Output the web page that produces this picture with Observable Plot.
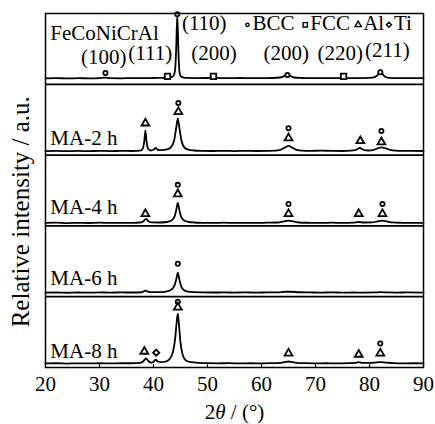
<!DOCTYPE html>
<html><head><meta charset="utf-8">
<script src="https://cdn.jsdelivr.net/npm/d3@7"></script>
<script src="https://cdn.jsdelivr.net/npm/@observablehq/plot@0.6"></script>
<style>body{margin:0;background:#fff} svg{display:block}</style>
</head><body><div id="chart"></div>
<script>
// ---- data (2θ in degrees, intensity in a.u. relative to each panel) ----
const samples = ["FeCoNiCrAl", "MA-2 h", "MA-4 h", "MA-6 h", "MA-8 h"];
const xTicks = [20, 30, 40, 50, 60, 70, 80, 90];

const traceAlloy = [[20,8.5],[22,8.8],[24,8.3],[26,8.7],[28,8.4],[30,8.8],[31,9.3],[32,8.6],[34,8.5],[36,8.8],[38,8.6],[40,8.9],[42,9.2],[43,9.8],[43.6,11],[44.0,20],[44.2,50],[44.4,97],[44.6,50],[44.8,18],[45.1,11],[45.6,9.5],[46.5,9],[48,8.7],[50,8.9],[50.7,9.5],[51.1,11],[51.5,9.5],[52.5,8.8],[54,8.6],[56,8.9],[58,8.6],[60,8.8],[62,8.9],[63.5,9.6],[64.3,12],[64.8,15.5],[65.3,12],[66,9.6],[67.5,8.9],[69,8.6],[71,8.8],[73,8.6],[75,8.9],[77,8.7],[79,8.8],[80.5,9.3],[81.4,12],[81.8,17],[82.0,20],[82.3,16],[82.8,11],[83.6,9.2],[85,8.8],[87,8.6],[89,8.8],[90,8.6]];
const trace2h = [[20,5.7],[22,6],[24,5.5],[26,5.9],[28,5.6],[30,6],[32,5.7],[34,5.9],[36,5.8],[37.5,6.2],[38.0,9],[38.3,20],[38.5,35],[38.7,20],[39.0,9],[39.5,6.5],[40.0,7.5],[40.4,10],[40.8,7.5],[41.5,7],[42.5,8],[43.2,11],[43.8,20],[44.2,38],[44.5,52],[44.8,38],[45.2,20],[45.8,10],[46.5,7.5],[47.5,6.5],[49,6],[51,5.8],[53,6],[55,5.7],[57,6],[59,5.8],[61,6],[62.5,6.3],[63.5,7.5],[64.3,10.5],[65,13],[65.7,10.5],[66.5,7.5],[67.5,6.3],[69,6],[71,6.3],[73,6],[75,5.8],[76.5,6.2],[77.5,7.5],[78.2,10],[78.9,7.5],[79.8,6.5],[80.8,7.5],[81.5,9.5],[82.2,11],[83,9.5],[83.8,7.5],[84.8,6.3],[86,5.9],[88,6.1],[90,5.8]];
const trace4h = [[20,4.2],[22,4.5],[24,4],[26,4.4],[28,4.1],[30,4.5],[32,4.2],[34,4.4],[36,4.3],[37.5,4.8],[38.2,7],[38.6,10],[39.0,7],[39.7,5],[41,4.8],[42.5,5.5],[43.3,7.5],[43.9,13],[44.2,22],[44.5,32.5],[44.8,22],[45.1,13],[45.7,7.5],[46.5,5.5],[47.5,4.8],[49,4.4],[51,4.2],[53,4.5],[55,4.2],[57,4.4],[59,4.2],[61,4.5],[63,4.8],[64,6],[65,7.5],[66,6],[67,4.8],[69,4.4],[71,4.2],[73,4.5],[75,4.2],[77,4.6],[78,5.5],[79,4.8],[80.5,5],[81.5,6.5],[82.3,7.5],[83.2,6.5],[84.2,5],[86,4.4],[88,4.2],[90,4.4]];
const trace6h = [[20,5.7],[22,5.9],[24,5.6],[26,5.9],[28,5.7],[30,6],[32,5.8],[34,6],[36,5.9],[37.8,6.3],[38.5,8.5],[39.2,6.5],[40.5,6.4],[41.5,6.5],[42.5,7.5],[43.3,10],[43.9,16],[44.2,24],[44.5,34],[44.8,24],[45.1,15],[45.6,9.5],[46.3,7.3],[47.5,6.4],[49,6.1],[51,5.9],[53,6],[55,5.8],[57,6],[59,5.8],[61,6],[63,6.2],[64.5,7],[65.5,7],[67,6.3],[69,6],[71,5.8],[73,6],[75,5.8],[77,5.9],[79,5.8],[81,6],[82,6.5],[83.5,6],[85,5.8],[87,6],[90,5.8]];
const trace8h = [[20,5.7],[22,6],[24,5.6],[26,5.9],[28,5.7],[30,6],[32,5.8],[34,6],[36,6],[37.5,6.5],[38.1,8.5],[38.6,12.7],[39.1,8.5],[39.6,6.8],[40.0,8],[40.4,11],[40.8,8.5],[41.5,7.5],[42.3,8.5],[43.0,12],[43.6,22],[44.0,40],[44.3,65],[44.5,76],[44.7,62],[45.0,35],[45.4,18],[46,10],[47,7.5],[48.5,6.5],[50,6.1],[52,5.9],[54,6.1],[56,5.8],[58,6],[60,5.9],[62,6.1],[63.5,6.6],[64.4,7.8],[65,8.5],[65.6,7.8],[66.5,6.6],[68,6.1],[70,5.9],[72,6],[74,5.8],[76,6.1],[77.3,6.6],[78,7.5],[78.7,6.6],[80,6.4],[81,6.9],[82,7.5],[83,7],[84.5,6.2],[86,5.9],[88,6],[90,5.8]];
const traceList = [traceAlloy, trace2h, trace4h, trace6h, trace8h];

// phase markers: [phase, 2θ, level]
const markersAlloy = [["BCC",31.1,16],["FCC",42.6,11.3],["BCC",44.4,99],["FCC",51.1,11.3],["BCC",64.8,13],["FCC",75.2,11.3],["BCC",82.0,17]];
const markers2h = [["Al",38.5,45],["BCC",44.6,73.5],["Al",44.6,61],["BCC",65,38],["Al",65,24],["Al",78.3,20],["BCC",82.2,34],["Al",82.2,18.4]];
const markers4h = [["Al",38.5,17],["BCC",44.5,58],["Al",44.5,45],["BCC",65,31],["Al",65,17],["Al",78,17],["BCC",82.4,31],["Al",82.4,17]];
const markers6h = [["BCC",44.5,46.6]];
const markers8h = [["BCC",44.5,93],["Al",44.5,85],["Al",38.3,22.6],["Ti",40.5,21],["Al",65,20],["Al",78,18.4],["BCC",82,34],["Al",82,20]];
const markerList = [markersAlloy, markers2h, markers4h, markers6h, markers8h];

// Miller indices in the alloy panel: [label, 2θ, level]
const hklLabels = [["(100)",30.8,28],["(111)",39.4,35],["(110)",49.4,77.4],["(200)",51.2,35],["(200)",64.6,35],["(220)",74.6,35],["(211)",83.3,39]];
// legend
const phases = ["BCC", "FCC", "Al", "Ti"];
const phaseSymbols = ["circle", "square", "triangle", "diamond2"];
const legendTheta = [57.4, 68.1, 77.9, 83.6];
const sampleLabelLevels = [62, 13.6, 17, 17, 14];

// ---- derived ----
const n = samples.length;
const base = i => (n - 1 - i) * 100;
const lineData = traceList.flatMap((tr, i) => tr.map(([t, v]) => ({sample: samples[i], t, y: v + base(i)})));
const markerData = markerList.flatMap((ms, i) => ms.map(([p, t, v]) => ({phase: p, t, y: v + base(i)})));
const symOf = p => phaseSymbols[phases.indexOf(p)];
const rOf = {circle: 2.1, square: 3.1, triangle: 2.9, diamond2: 2.8};
const hklData = hklLabels.map(([s, t, v]) => ({s, t, y: v + base(0)}));
const sampleData = samples.map((s, i) => ({s, t: 20.9, y: sampleLabelLevels[i] + base(i)}));
const legendData = phases.map((p, i) => ({p, t: legendTheta[i], y: base(0) + 84, sym: phaseSymbols[i]}));

const font = "'Liberation Serif', 'Times New Roman', serif";
const dotsBy = sym => Plot.dot(markerData.filter(d => symOf(d.phase) === sym), {x: "t", y: "y", symbol: sym, r: rOf[sym], stroke: "black", strokeWidth: 1.8, fill: "white"});

const chart = Plot.plot({
  width: 435, height: 424,
  marginLeft: 45, marginRight: 12, marginTop: 13, marginBottom: 57,
  style: {fontFamily: font, background: "white", color: "black"},
  x: {domain: [20, 90]},
  y: {domain: [0, 500], axis: null},
  marks: [
    Plot.ruleY([100, 200, 300, 400], {stroke: "black", strokeWidth: 1.8}),
    Plot.line(lineData, {x: "t", y: "y", z: "sample", curve: "monotone-x", stroke: "black", strokeWidth: 1.8}),
    ...phaseSymbols.map(dotsBy),
    Plot.ruleX(xTicks.slice(1, -1), {y1: 0, y2: 4, stroke: "black", strokeWidth: 1.2}),
    Plot.axisX({ticks: xTicks, tickSize: 0, tickPadding: 9, fontSize: 21, label: null, tickFormat: d => String(d)}),
    Plot.text(sampleData, {x: "t", y: "y", text: "s", textAnchor: "start", lineAnchor: "bottom", fontSize: 21}),
    Plot.text(hklData, {x: "t", y: "y", text: "s", textAnchor: "middle", lineAnchor: "bottom", fontSize: 21}),
    ...legendData.map(d => Plot.dot([d], {x: "t", y: "y", symbol: d.sym, r: rOf[d.sym] * 0.8, stroke: "black", strokeWidth: 1.4, fill: "white"})),
    Plot.text(legendData, {x: "t", y: base(0) + 77, text: "p", textAnchor: "start", lineAnchor: "bottom", fontSize: 21, dx: 5}),
    Plot.text(["x"], {x: 55, y: -73.4, text: d => "2θ / (°)", textAnchor: "middle", lineAnchor: "bottom", fontSize: 21, className: "xlabel"}),
    Plot.text(["y"], {x: 15.4, y: 220, text: d => "Relative intensity / a.u.", rotate: -90, textAnchor: "middle", lineAnchor: "middle", fontSize: 25}),
    Plot.frame({stroke: "black", strokeWidth: 1.5})
  ]
});
document.getElementById("chart").appendChild(chart);
// italic theta in the x label
const xl = d3.select(chart).select(".xlabel text");
xl.text(null);
xl.append("tspan").text("2");
xl.append("tspan").attr("font-style", "italic").text("θ");
xl.append("tspan").text(" / (°)");
</script>
</body></html>
